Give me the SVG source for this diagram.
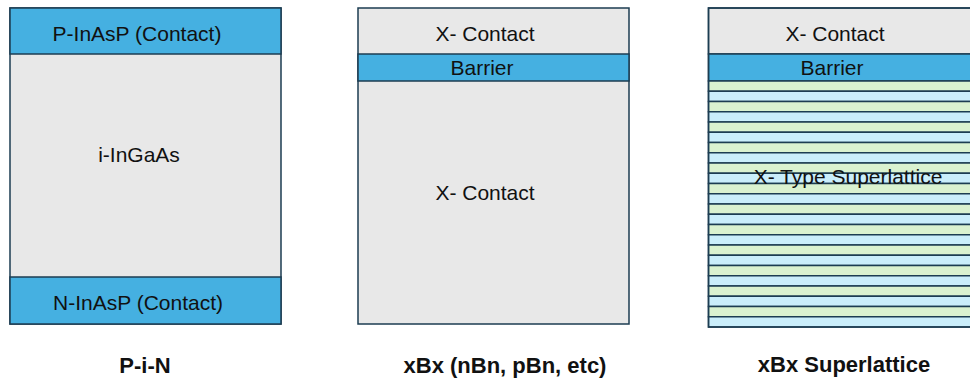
<svg xmlns="http://www.w3.org/2000/svg" width="970" height="380" viewBox="0 0 970 380">
  <style>
    .blue { fill: #45B0E1; stroke: #1C3D52; stroke-width: 1.5; }
    .gray { fill: #E8E8E8; stroke: #1C3D52; stroke-width: 1.5; }
    .g { fill: #DAF2D0; stroke: #1C3D52; stroke-width: 1.5; }
    .b { fill: #CAEEFB; stroke: #1C3D52; stroke-width: 1.5; }
    .outline { fill: none; stroke: #1C3D52; stroke-width: 1.5; }
    .t { font-family: "Liberation Sans", Arial, sans-serif; font-size: 21px; fill: #111111; text-anchor: middle; }
    .cap { font-family: "Liberation Sans", Arial, sans-serif; font-size: 22px; font-weight: bold; fill: #111111; text-anchor: middle; }
  </style>
  <rect width="970" height="380" fill="#FFFFFF"/>

  <g id="pin">
    <rect class="gray" x="10" y="8" width="271" height="316"/>
    <rect class="blue" x="10" y="8" width="271" height="46"/>
    <rect class="blue" x="10" y="277" width="271" height="47"/>
    <text class="t" x="137" y="41">P-InAsP (Contact)</text>
    <text class="t" x="139" y="162">i-InGaAs</text>
    <text class="t" x="138" y="310">N-InAsP (Contact)</text>
    <text class="cap" x="145" y="373">P-i-N</text>
  </g>

  <g id="xbx">
    <rect class="gray" x="358" y="8" width="271" height="316"/>
    <rect class="blue" x="358" y="54" width="271" height="27"/>
    <text class="t" x="485" y="40.5">X- Contact</text>
    <text class="t" x="482" y="74.5">Barrier</text>
    <text class="t" x="485" y="199.5">X- Contact</text>
    <text class="cap" x="505" y="373">xBx (nBn, pBn, etc)</text>
  </g>

  <g id="xbx-superlattice">
    <rect class="gray" x="708.5" y="8" width="271" height="46"/>
    <rect class="blue" x="708.5" y="54" width="271" height="27"/>
    <rect class="g" x="708.5" y="81" width="271" height="10.25"/>
    <rect class="b" x="708.5" y="91.25" width="271" height="10.25"/>
    <rect class="g" x="708.5" y="101.5" width="271" height="10.25"/>
    <rect class="b" x="708.5" y="111.75" width="271" height="10.25"/>
    <rect class="g" x="708.5" y="122" width="271" height="10.25"/>
    <rect class="b" x="708.5" y="132.25" width="271" height="10.25"/>
    <rect class="g" x="708.5" y="142.5" width="271" height="10.25"/>
    <rect class="b" x="708.5" y="152.75" width="271" height="10.25"/>
    <rect class="g" x="708.5" y="163" width="271" height="10.25"/>
    <rect class="b" x="708.5" y="173.25" width="271" height="10.25"/>
    <rect class="g" x="708.5" y="183.5" width="271" height="10.25"/>
    <rect class="b" x="708.5" y="193.75" width="271" height="10.25"/>
    <rect class="g" x="708.5" y="204" width="271" height="10.25"/>
    <rect class="b" x="708.5" y="214.25" width="271" height="10.25"/>
    <rect class="g" x="708.5" y="224.5" width="271" height="10.25"/>
    <rect class="b" x="708.5" y="234.75" width="271" height="10.25"/>
    <rect class="g" x="708.5" y="245" width="271" height="10.25"/>
    <rect class="b" x="708.5" y="255.25" width="271" height="10.25"/>
    <rect class="g" x="708.5" y="265.5" width="271" height="10.25"/>
    <rect class="b" x="708.5" y="275.75" width="271" height="10.25"/>
    <rect class="g" x="708.5" y="286" width="271" height="10.25"/>
    <rect class="b" x="708.5" y="296.25" width="271" height="10.25"/>
    <rect class="g" x="708.5" y="306.5" width="271" height="10.25"/>
    <rect class="b" x="708.5" y="316.75" width="271" height="10.25"/>
    <rect class="outline" x="708.5" y="8" width="271" height="319"/>
    <text class="t" x="835" y="40.5">X- Contact</text>
    <text class="t" x="832" y="74.5">Barrier</text>
    <text class="t" x="848" y="183.5">X- Type Superlattice</text>
    <text class="cap" x="844" y="372">xBx Superlattice</text>
  </g>
</svg>
